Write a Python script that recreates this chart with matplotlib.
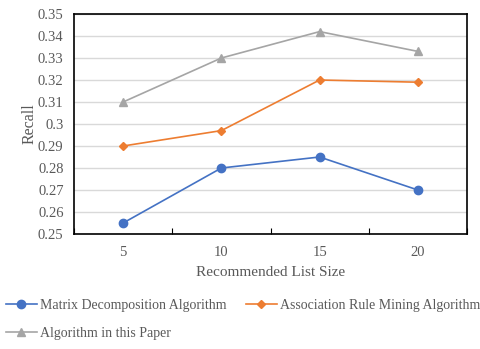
import matplotlib
matplotlib.use("Agg")
import matplotlib.pyplot as plt
from matplotlib.ticker import FixedLocator, NullFormatter

plt.rcParams['font.family'] = ['Liberation Serif', 'DejaVu Serif']

categories = ["5", "10", "15", "20"]
matrix_vals = [0.255, 0.28, 0.285, 0.27]
assoc_vals = [0.29, 0.297, 0.32, 0.319]
paper_vals = [0.31, 0.33, 0.342, 0.333]
series_names = ["Matrix Decomposition Algorithm", "Association Rule Mining Algorithm", "Algorithm in this Paper"]
yticks = [0.25, 0.26, 0.27, 0.28, 0.29, 0.3, 0.31, 0.32, 0.33, 0.34, 0.35]
ytick_labels = ["0.25", "0.26", "0.27", "0.28", "0.29", "0.3", "0.31", "0.32", "0.33", "0.34", "0.35"]

txt = '#595959'
fig = plt.figure(figsize=(4.8, 3.49), dpi=100)
ax = fig.add_axes([74/480, 1-234/349, (467-74)/480, (234-14)/349])

x = [i + 0.5 for i in range(len(categories))]
h1, = ax.plot(x, matrix_vals, color='#4472C4', marker='o', markersize=6, linewidth=1.2, label=series_names[0])
h2, = ax.plot(x, assoc_vals, color='#ED7D31', marker='D', markersize=4.5, linewidth=1.2, label=series_names[1])
h3, = ax.plot(x, paper_vals, color='#A5A5A5', marker='^', markersize=6, linewidth=1.2, label=series_names[2])

ax.set_xlim(0, len(categories))
ax.set_ylim(0.25, 0.35)
ax.set_yticks(yticks)
ax.set_yticklabels(ytick_labels)
ax.yaxis.grid(True, color='#D9D9D9', linewidth=1)
ax.set_axisbelow(True)
ax.tick_params(axis='y', length=0, labelsize=10.5, labelcolor=txt, pad=7.5)
ax.xaxis.set_major_locator(FixedLocator(range(len(categories) + 1)))
ax.xaxis.set_major_formatter(NullFormatter())
ax.xaxis.set_minor_locator(FixedLocator(x))
ax.set_xticklabels(categories, minor=True)
ax.tick_params(axis='x', which='major', direction='in', length=4, width=0.8, color='#000000')
ax.tick_params(axis='x', which='minor', length=0, labelsize=10.5, labelcolor=txt, pad=9)
for s in ax.spines.values():
    s.set_color('black')
    s.set_linewidth(1.2)

ax.set_xlabel("Recommended List Size", fontsize=11, color=txt, labelpad=5)
ax.set_ylabel("Recall", fontsize=11.5, color=txt, labelpad=0.5)

fig.legend(handles=[h1, h3, h2], labels=[series_names[0], series_names[2], series_names[1]],
           loc='upper left', bbox_to_anchor=(6/480, 1-299/349), ncol=2, frameon=False,
           fontsize=10, labelcolor=txt, handlelength=2.2, handletextpad=0.25,
           columnspacing=1.4, borderaxespad=0, borderpad=0, labelspacing=1.1)

fig.savefig("out.png", dpi=100)
